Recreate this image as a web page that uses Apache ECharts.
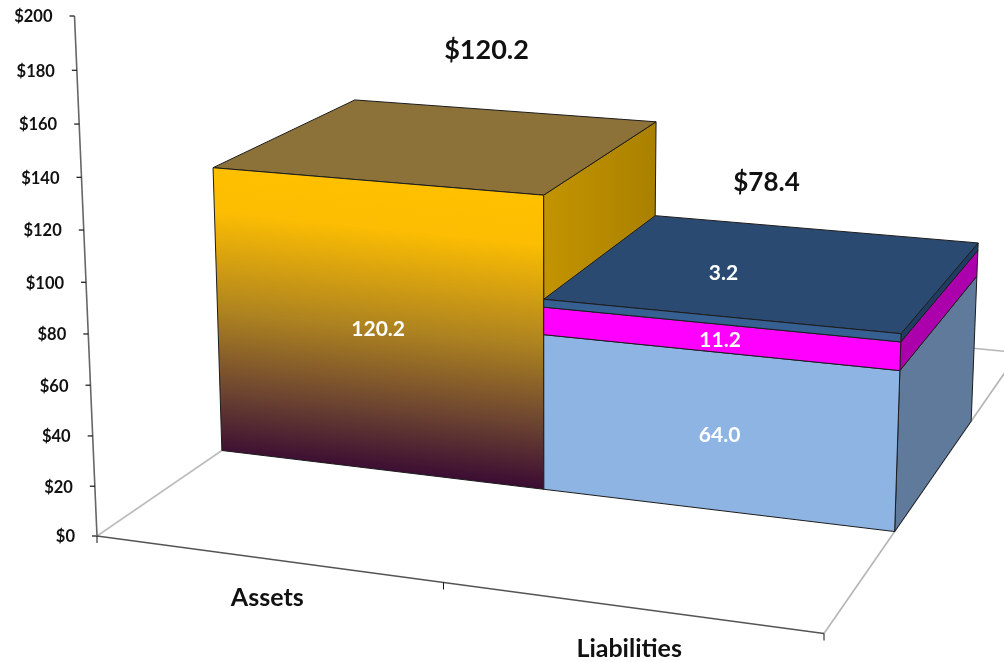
<!DOCTYPE html>
<html><head><meta charset="utf-8">
<style>html,body{margin:0;padding:0;background:#fff}#c{width:1004px;height:662px}</style>
<script src="https://cdn.jsdelivr.net/npm/echarts@6/dist/echarts.min.js"></script>
</head><body><div id="c"></div>
<script>
// ---- data ----
const categories = ['Assets', 'Liabilities'];
const assetValues = [120.2];
const liabilitySegments = [64.0, 11.2, 3.2];
const totals = [120.2, 78.4];
const yTicks = [0, 20, 40, 60, 80, 100, 120, 140, 160, 180, 200];

// ---- projection: plane coordinates from the axes -> perspective picture ----
const GW = 1000, GH = 600;             // hidden grid
const ZF = 0.30, ZB = 0.70;            // bar depth on the floor
const O = [97, 536], AX = [824, 633.5], BY = [74.5, 16], CZ = [446, 297];
const l = -0.0895, m = -0.047, n = 0.30;
const a = [AX[0]*(1+l)-O[0], AX[1]*(1+l)-O[1]];
const b = [BY[0]*(1+m)-O[0], BY[1]*(1+m)-O[1]];
const c = [CZ[0]*(1+n)-O[0], CZ[1]*(1+n)-O[1]];
function proj(X, Y, Z) {
  const w = 1 + l*X + m*Y + n*Z;
  return [(O[0]+a[0]*X+b[0]*Y+c[0]*Z)/w, (O[1]+a[1]*X+b[1]*Y+c[1]*Z)/w];
}
function normX(px) { return px / GW; }
function normY(py) { return (GH - py) / GH; }
const FONT = 'Lato, "Open Sans", sans-serif';
const stroke = {stroke: '#1c1c1c', lineWidth: 1, lineJoin: 'round'};
function poly(points, fill, extra) {
  return {type: 'polygon', shape: {points}, style: Object.assign({fill}, stroke, extra || {}), silent: true};
}
function line(p, q, color, width) {
  return {type: 'line', shape: {x1: p[0], y1: p[1], x2: q[0], y2: q[1]},
          style: {stroke: color, lineWidth: width}, silent: true};
}
function text(x, y, s, size, fill, align) {
  return {type: 'text', x, y, silent: true,
          style: {text: s, fill, font: 'bold ' + size + 'px ' + FONT, align: align || 'center', verticalAlign: 'middle'}};
}

// one box from (category, base value, top value)
function boxItem(colors, label) {
  return function (params, api) {
    const cat = api.value(0), v0 = api.value(1), v1 = api.value(2);
    const w = api.size([1, 0])[0];
    const cx = api.coord([cat, 0])[0];
    const x0 = normX(cx - w/2), x1 = normX(cx + w/2);
    const y0 = normY(api.coord([cat, v0])[1]), y1 = normY(api.coord([cat, v1])[1]);
    const fbl = proj(x0,y0,ZF), fbr = proj(x1,y0,ZF), ftl = proj(x0,y1,ZF), ftr = proj(x1,y1,ZF);
    const bbr = proj(x1,y0,ZB), btr = proj(x1,y1,ZB), btl = proj(x0,y1,ZB);
    const kids = [];
    kids.push(poly([fbr, bbr, btr, ftr], colors.side));
    if (colors.top) kids.push(poly([ftl, ftr, btr, btl], colors.top));
    let front = colors.front;
    if (colors.stops) {
      // gradient runs square to the slanted front edge, so it follows the perspective
      const mt = [(ftl[0]+ftr[0])/2, (ftl[1]+ftr[1])/2], mb = [(fbl[0]+fbr[0])/2, (fbl[1]+fbr[1])/2];
      const s = (fbr[1]-fbl[1]+ftr[1]-ftl[1]) / (fbr[0]-fbl[0]+ftr[0]-ftl[0]);
      const h = mb[1]-mt[1];
      front = new echarts.graphic.LinearGradient(mt[0], mt[1], mt[0]-s*h, mt[1]+h, colors.stops, true);
    }
    kids.push(poly([fbl, fbr, ftr, ftl], front));
    if (label) {
      const p = proj((x0+x1)/2, (y0+y1)/2, label.z == null ? ZF : label.z);
      kids.push(text(p[0] + (label.dx||0), p[1] + (label.dy||0), label.text, 21, '#fff'));
    }
    return {type: 'group', children: kids};
  };
}

// axes and floor
function axisItem(params, api) {
  const v = api.value(1);
  const Y = normY(api.coord([0, v])[1]);
  const p = proj(0, Y, 0);
  const kids = [line([p[0]-5, p[1]], [p[0], p[1]], '#111', 1.2),
                text(p[0]-22, p[1]+1, '$' + v, 16.5, '#111', 'right')];
  if (params.dataIndex === 0) {
    const x = [0, 0.5, 1];
    kids.push(line(proj(0,0,0), proj(0,0,1), '#bdbdbd', 1.6));
    kids.push(line(proj(1,0,0), proj(1,0,1), '#b5b5b5', 1.6));
    kids.push(line(proj(0,0,1), proj(1,0,1), '#b5b5b5', 1.4));
    kids.push(line(proj(0,0,0), proj(0,1,0), '#666', 1.6));
    kids.push(line(proj(0,0,0), proj(1,0,0), '#555', 1.6));
    x.forEach(t => { const q = proj(t,0,0); kids.push(line(q, [q[0], q[1]+7], '#111', 1)); });
  }
  return {type: 'group', children: kids};
}

const goldStops = [
  {offset: 0, color: '#FFC000'}, {offset: 0.16, color: '#FCBD02'},
  {offset: 0.5, color: '#AE8320'}, {offset: 0.78, color: '#6B4331'}, {offset: 1, color: '#3A0B33'}];
const goldSide = new echarts.graphic.LinearGradient(0, 0, 1, 0, [
  {offset: 0, color: '#C39400'}, {offset: 1, color: '#AA8000'}]);

function labelItem(params, api) {
  const cat = api.value(0), total = api.value(1);
  const cx = normX(api.coord([cat, 0])[0]);
  const Y = normY(api.coord([cat, total])[1]);
  const kids = [];
  const top = proj(cx, Y, ZB);
  kids.push(text(top[0] + (cat === 0 ? -16 : -47), top[1] + (cat === 0 ? -60 : -46), '$' + total.toFixed(1), cat === 0 ? 27 : 26, '#111'));
  const base = proj(cx, 0, 0);
  kids.push(text(base[0] + (cat === 0 ? 1 : 0), base[1] + (cat === 0 ? 39 : 42), categories[cat], 25, '#111'));
  return {type: 'group', children: kids};
}

const assetsSeries = {type: 'custom', name: 'Assets', coordinateSystem: 'cartesian2d', z: 3, clip: false,
  renderItem: boxItem({stops: goldStops, side: goldSide, top: '#8C7239'}, {text: assetValues[0].toFixed(1), dx: 1, dy: 2}),
  data: [[0, 0, assetValues[0]]]};

const segColors = [
  {front: '#8DB4E2', side: '#5F7A9B'},
  {front: '#FF00FF', side: '#AC00AC'},
  {front: '#366092', side: '#1F3D63', top: '#2B4A72'}];
const segLabelOffsets = [{dx: 3, dy: 4}, {dx: 2, dy: 2}, {dx: -45, dy: -1, z: (ZF + ZB) / 2}];
let base = 0;
const liabilitySeries = liabilitySegments.map((v, i) => {
  const from = base; base += v;
  return {type: 'custom', name: categories[1] + ' ' + i, coordinateSystem: 'cartesian2d', z: 4 + i, clip: false,
    renderItem: boxItem(segColors[i], Object.assign({text: v.toFixed(1)}, segLabelOffsets[i])), data: [[1, from, from + v]]};
});

const chart = echarts.init(document.getElementById('c'));
chart.setOption({
  animation: false, backgroundColor: '#fff',
  grid: {left: 0, top: 0, width: GW, height: GH, containLabel: false},
  xAxis: {type: 'category', data: categories, show: false},
  yAxis: {type: 'value', min: 0, max: 200, interval: 20, show: false},
  series: [
    {type: 'custom', name: 'axes', coordinateSystem: 'cartesian2d', z: 1, clip: false,
     renderItem: axisItem, data: yTicks.map(v => [0, v])},
    assetsSeries
  ].concat(liabilitySeries).concat([
    {type: 'custom', name: 'totals', coordinateSystem: 'cartesian2d', z: 9, clip: false,
     renderItem: labelItem, data: totals.map((t, i) => [i, t])}
  ])
});
</script></body></html>
